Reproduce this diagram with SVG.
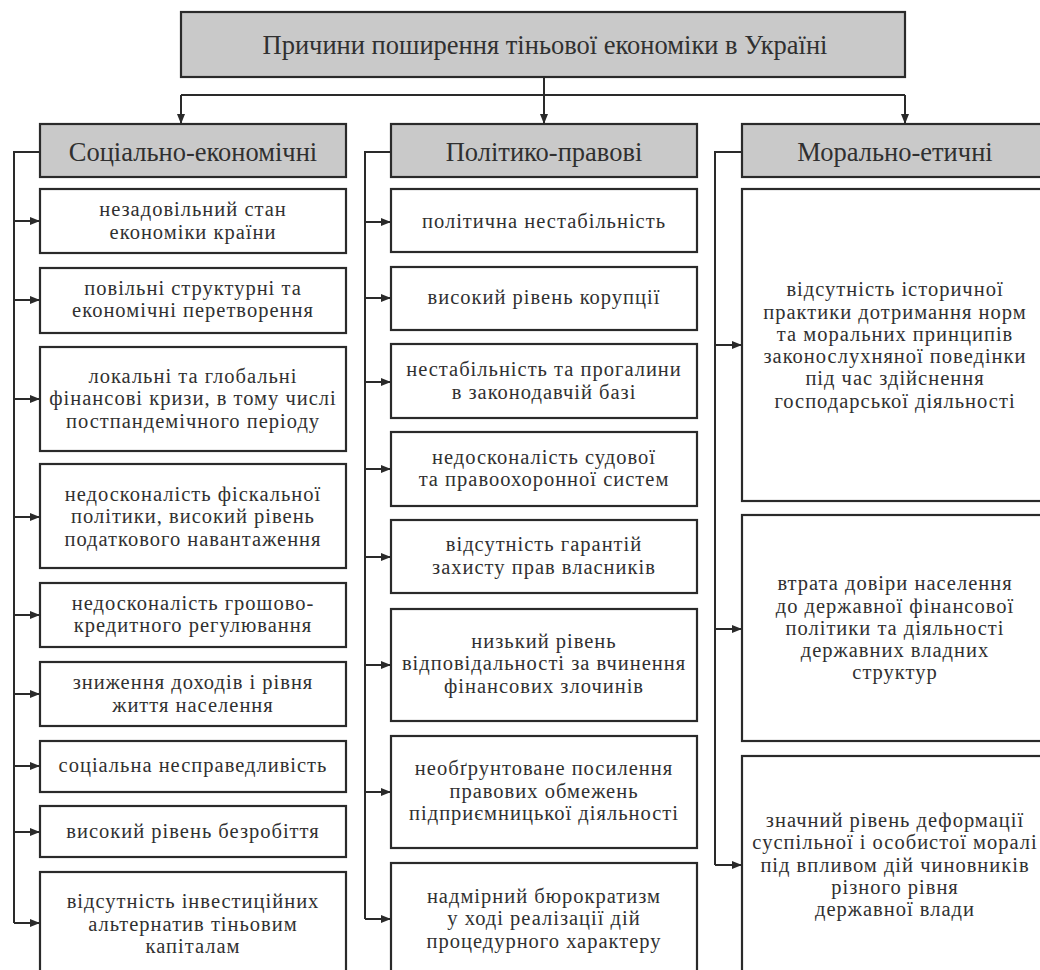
<svg xmlns="http://www.w3.org/2000/svg" width="1040" height="970" viewBox="0 0 1040 970">
<defs>
<style>
.box{fill:#fff;stroke:#2a2a2a;stroke-width:2.2}
.hdr{fill:#c9c9c9;stroke:#2a2a2a;stroke-width:2.2}
.t{font-family:"Liberation Serif","Times New Roman",serif;font-size:20.5px;letter-spacing:1px;fill:#303030;text-anchor:middle}
.h{font-family:"Liberation Serif","Times New Roman",serif;font-size:26.5px;fill:#303030;text-anchor:middle}
.c{fill:none;stroke:#2a2a2a;stroke-width:2}
</style>
<marker id="ar" markerWidth="10" markerHeight="8" refX="9" refY="4" orient="auto" markerUnits="userSpaceOnUse">
<path d="M0,0 L10,4 L0,8 Z" fill="#2a2a2a"/>
</marker>
</defs>
<rect width="1040" height="970" fill="#fff"/>

<g id="connectors">
<path class="c" d="M544,77 V123" marker-end="url(#ar)"/>
<path class="c" d="M181,95 H905"/>
<path class="c" d="M181,95 V123" marker-end="url(#ar)"/>
<path class="c" d="M905,95 V123" marker-end="url(#ar)"/>
<path class="c" d="M40,152 H14 V923"/>
<path class="c" d="M14,221 H39" marker-end="url(#ar)"/>
<path class="c" d="M14,300 H39" marker-end="url(#ar)"/>
<path class="c" d="M14,399 H39" marker-end="url(#ar)"/>
<path class="c" d="M14,517 H39" marker-end="url(#ar)"/>
<path class="c" d="M14,615 H39" marker-end="url(#ar)"/>
<path class="c" d="M14,694 H39" marker-end="url(#ar)"/>
<path class="c" d="M14,766 H39" marker-end="url(#ar)"/>
<path class="c" d="M14,832 H39" marker-end="url(#ar)"/>
<path class="c" d="M14,923 H39" marker-end="url(#ar)"/>
<path class="c" d="M391,152 H365 V919"/>
<path class="c" d="M365,222 H390" marker-end="url(#ar)"/>
<path class="c" d="M365,298 H390" marker-end="url(#ar)"/>
<path class="c" d="M365,382 H390" marker-end="url(#ar)"/>
<path class="c" d="M365,469 H390" marker-end="url(#ar)"/>
<path class="c" d="M365,557 H390" marker-end="url(#ar)"/>
<path class="c" d="M365,665 H390" marker-end="url(#ar)"/>
<path class="c" d="M365,792 H390" marker-end="url(#ar)"/>
<path class="c" d="M365,919 H390" marker-end="url(#ar)"/>
<path class="c" d="M742,152 H715 V865"/>
<path class="c" d="M715,345 H741" marker-end="url(#ar)"/>
<path class="c" d="M715,629 H741" marker-end="url(#ar)"/>
<path class="c" d="M715,865 H741" marker-end="url(#ar)"/>
</g>

<g id="title"><rect class="hdr" x="181" y="12" width="724" height="65"/><text class="h" x="545" y="54">Причини поширення тіньової економіки в Україні</text></g>

<g id="h-social"><rect class="hdr" x="40" y="124" width="306" height="53"/><text class="h" x="193" y="161">Соціально-економічні</text></g>
<g id="h-polit"><rect class="hdr" x="391" y="124" width="306" height="53"/><text class="h" x="544" y="161">Політико-правові</text></g>
<g id="h-moral"><rect class="hdr" x="742" y="124" width="306" height="53"/><text class="h" x="895" y="161">Морально-етичні</text></g>

<g id="s1"><rect class="box" x="40" y="189" width="306" height="64"/><text class="t" x="193" y="216">незадовільний стан</text><text class="t" x="193" y="239">економіки країни</text></g>
<g id="s2"><rect class="box" x="40" y="268" width="306" height="65"/><text class="t" x="193" y="295">повільні структурні та</text><text class="t" x="193" y="317">економічні перетворення</text></g>
<g id="s3"><rect class="box" x="40" y="347" width="306" height="104"/><text class="t" x="193" y="383">локальні та глобальні</text><text class="t" x="193" y="405">фінансові кризи, в тому числі</text><text class="t" x="193" y="428">постпандемічного періоду</text></g>
<g id="s4"><rect class="box" x="40" y="464" width="306" height="104"/><text class="t" x="193" y="501">недосконалість фіскальної</text><text class="t" x="193" y="523">політики, високий рівень</text><text class="t" x="193" y="546">податкового навантаження</text></g>
<g id="s5"><rect class="box" x="40" y="583" width="306" height="64"/><text class="t" x="193" y="610">недосконалість грошово-</text><text class="t" x="193" y="632">кредитного регулювання</text></g>
<g id="s6"><rect class="box" x="40" y="662" width="306" height="64"/><text class="t" x="193" y="689">зниження доходів і рівня</text><text class="t" x="193" y="712">життя населення</text></g>
<g id="s7"><rect class="box" x="40" y="741" width="306" height="51"/><text class="t" x="193" y="772">соціальна несправедливість</text></g>
<g id="s8"><rect class="box" x="40" y="806" width="306" height="51"/><text class="t" x="193" y="838">високий рівень безробіття</text></g>
<g id="s9"><rect class="box" x="40" y="872" width="306" height="110"/><text class="t" x="193" y="908">відсутність інвестиційних</text><text class="t" x="193" y="931">альтернатив тіньовим</text><text class="t" x="193" y="953">капіталам</text></g>

<g id="p1"><rect class="box" x="391" y="189" width="306" height="63"/><text class="t" x="544" y="228">політична нестабільність</text></g>
<g id="p2"><rect class="box" x="391" y="267" width="306" height="63"/><text class="t" x="544" y="304">високий рівень корупції</text></g>
<g id="p3"><rect class="box" x="391" y="344" width="306" height="74"/><text class="t" x="544" y="376">нестабільність та прогалини</text><text class="t" x="544" y="399">в законодавчій базі</text></g>
<g id="p4"><rect class="box" x="391" y="432" width="306" height="74"/><text class="t" x="544" y="464">недосконалість судової</text><text class="t" x="544" y="486">та правоохоронної систем</text></g>
<g id="p5"><rect class="box" x="391" y="520" width="306" height="73"/><text class="t" x="544" y="551">відсутність гарантій</text><text class="t" x="544" y="574">захисту прав власників</text></g>
<g id="p6"><rect class="box" x="391" y="609" width="306" height="112"/><text class="t" x="544" y="648">низький рівень</text><text class="t" x="544" y="670">відповідальності за вчинення</text><text class="t" x="544" y="693">фінансових злочинів</text></g>
<g id="p7"><rect class="box" x="391" y="736" width="306" height="112"/><text class="t" x="544" y="775">необґрунтоване посилення</text><text class="t" x="544" y="798">правових обмежень</text><text class="t" x="544" y="820">підприємницької діяльності</text></g>
<g id="p8"><rect class="box" x="391" y="863" width="306" height="120"/><text class="t" x="544" y="903">надмірний бюрократизм</text><text class="t" x="544" y="925">у ході реалізації дій</text><text class="t" x="544" y="948">процедурного характеру</text></g>

<g id="m1"><rect class="box" x="742" y="189" width="306" height="312"/><text class="t" x="895" y="296">відсутність історичної</text><text class="t" x="895" y="319">практики дотримання норм</text><text class="t" x="895" y="341">та моральних принципів</text><text class="t" x="895" y="363">законослухняної поведінки</text><text class="t" x="895" y="385">під час здійснення</text><text class="t" x="895" y="408">господарської діяльності</text></g>
<g id="m2"><rect class="box" x="742" y="515" width="306" height="226"/><text class="t" x="895" y="590">втрата довіри населення</text><text class="t" x="895" y="613">до державної фінансової</text><text class="t" x="895" y="635">політики та діяльності</text><text class="t" x="895" y="657">державних владних</text><text class="t" x="895" y="679">структур</text></g>
<g id="m3"><rect class="box" x="742" y="756" width="306" height="226"/><text class="t" x="895" y="827">значний рівень деформації</text><text class="t" x="895" y="849">суспільної і особистої моралі</text><text class="t" x="895" y="872">під впливом дій чиновників</text><text class="t" x="895" y="894">різного рівня</text><text class="t" x="895" y="916">державної влади</text></g>
</svg>
